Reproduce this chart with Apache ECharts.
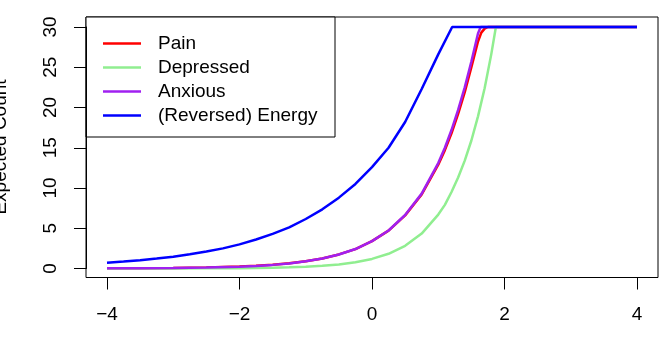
<!DOCTYPE html>
<html>
<head>
<meta charset="utf-8">
<script src="https://cdn.jsdelivr.net/npm/echarts@6/dist/echarts.min.js"></script>
<style>
  html, body { margin: 0; padding: 0; background: #fff; }
  #chart { width: 662px; height: 349px; }
</style>
</head>
<body>
<div id="chart"></div>
<script>
// values (curves capped at 30)
const painX = [-4, -3.5, -3, -2.5, -2, -1.75, -1.5, -1.25, -1, -0.75, -0.5, -0.25, 0, 0.25, 0.5, 0.75, 1, 1.1, 1.2, 1.3, 1.4, 1.5, 1.6, 1.65, 1.7, 1.75, 4]
const painY = [0.02, 0.03, 0.06, 0.12, 0.24, 0.33, 0.46, 0.64, 0.9, 1.25, 1.75, 2.4, 3.4, 4.7, 6.6, 9.2, 12.9, 14.7, 16.8, 19.2, 21.9, 25.0, 28.2, 29.3, 29.8, 30, 30]

const depressedX = [-4, -3, -2.5, -2, -1.75, -1.5, -1.25, -1, -0.75, -0.5, -0.25, 0, 0.25, 0.5, 0.75, 1, 1.1, 1.2, 1.3, 1.4, 1.5, 1.6, 1.7, 1.8, 1.87, 4]
const depressedY = [0, 0.01, 0.02, 0.04, 0.06, 0.09, 0.14, 0.21, 0.33, 0.5, 0.77, 1.19, 1.83, 2.82, 4.34, 6.7, 7.9, 9.5, 11.3, 13.4, 15.9, 18.9, 22.4, 26.6, 30, 30]

const anxiousX = [-4, -3.5, -3, -2.5, -2, -1.75, -1.5, -1.25, -1, -0.75, -0.5, -0.25, 0, 0.25, 0.5, 0.75, 1, 1.1, 1.2, 1.3, 1.4, 1.5, 1.6, 1.64, 4]
const anxiousY = [0.02, 0.03, 0.06, 0.12, 0.23, 0.32, 0.45, 0.63, 0.89, 1.24, 1.74, 2.42, 3.4, 4.72, 6.65, 9.3, 13.1, 15.0, 17.2, 19.7, 22.5, 25.7, 29.2, 30, 30]

const energyX = [-4, -3.75, -3.5, -3.25, -3, -2.75, -2.5, -2.25, -2, -1.75, -1.5, -1.25, -1, -0.75, -0.5, -0.25, 0, 0.25, 0.5, 0.75, 1, 1.21, 4]
const energyY = [0.72, 0.86, 1.03, 1.23, 1.47, 1.76, 2.1, 2.5, 3.0, 3.6, 4.3, 5.1, 6.15, 7.35, 8.8, 10.5, 12.6, 15.0, 18.2, 22.3, 26.6, 30, 30]

const seriesNames = ['Pain', 'Depressed', 'Anxious', '(Reversed) Energy']
const seriesColors = ['#ff0000', '#90ee90', '#a020f0', '#0000ff']
const seriesXs = [painX, depressedX, anxiousX, energyX]
const seriesYs = [painY, depressedY, anxiousY, energyY]

const xTicks = { min: -4, max: 4, step: 2 }
const yTicks = { min: 0, max: 30, step: 5 }

const font = '"Liberation Sans", Arial, sans-serif'
const chart = echarts.init(document.getElementById('chart'), null, { renderer: 'canvas' })

const pairs = (xs, ys) => xs.map((x, i) => [x, ys[i]])

chart.setOption({
  animation: false,
  backgroundColor: '#fff',
  grid: { left: 107, right: 25, top: 27, bottom: 80.5 },
  xAxis: {
    type: 'value',
    min: xTicks.min,
    max: xTicks.max,
    interval: xTicks.step,
    offset: 9,
    splitLine: { show: false },
    axisLine: { show: true, onZero: false, lineStyle: { color: '#000', width: 1 } },
    axisTick: { show: true, length: 12, lineStyle: { color: '#000', width: 1 } },
    axisLabel: {
      margin: 28,
      color: '#000',
      fontSize: 19,
      fontFamily: font,
      formatter: (v) => String(v).replace('-', '\u2212')
    }
  },
  yAxis: {
    type: 'value',
    min: yTicks.min,
    max: yTicks.max,
    interval: yTicks.step,
    offset: 21,
    splitLine: { show: false },
    axisLine: { show: true, onZero: false, lineStyle: { color: '#000', width: 1 } },
    axisTick: { show: true, length: 12, lineStyle: { color: '#000', width: 1 } },
    axisLabel: {
      rotate: 90,
      margin: 26,
      color: '#000',
      fontSize: 19,
      fontFamily: font
    }
  },
  legend: {
    orient: 'vertical',
    left: 103,
    top: 34,
    icon: 'rect',
    itemWidth: 38,
    itemHeight: 2.5,
    itemGap: 5,
    padding: 0,
    textStyle: { color: '#000', fontSize: 19, fontFamily: font, padding: [0, 0, 0, 12] },
    data: seriesNames
  },
  graphic: [
    {
      type: 'rect',
      z: 0,
      shape: { x: 86, y: 17, width: 572, height: 260.5 },
      style: { fill: null, stroke: '#000', lineWidth: 1 }
    },
    {
      type: 'rect',
      z: 0,
      shape: { x: 86, y: 17, width: 249, height: 120 },
      style: { fill: '#fff', stroke: '#000', lineWidth: 1 }
    },
    {
      type: 'text',
      x: 1,
      y: 147,
      rotation: Math.PI / 2,
      style: {
        text: 'Expected Count',
        fill: '#000',
        fontSize: 19,
        fontFamily: font,
        align: 'center',
        verticalAlign: 'middle'
      }
    }
  ],
  series: seriesNames.map((name, i) => ({
    name,
    type: 'line',
    data: pairs(seriesXs[i], seriesYs[i]),
    symbol: 'none',
    smooth: false,
    clip: false,
    color: seriesColors[i],
    lineStyle: { color: seriesColors[i], width: 2.5 }
  }))
})
</script>
</body>
</html>
